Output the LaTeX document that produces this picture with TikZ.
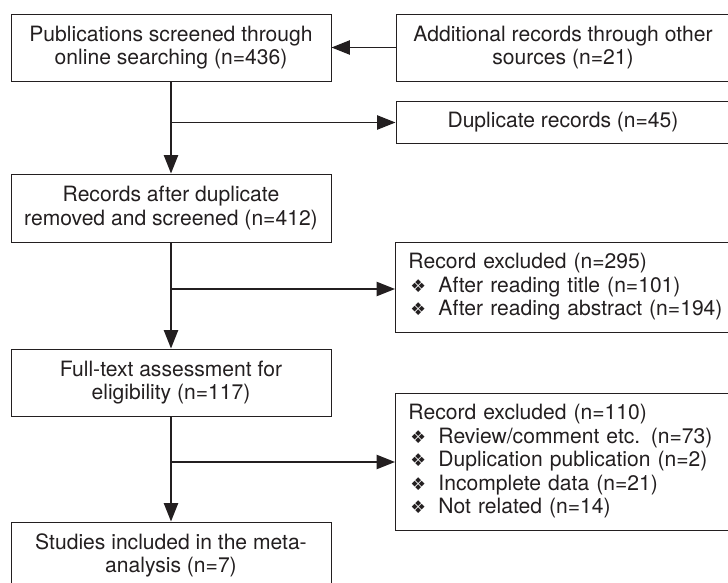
\documentclass[tikz,border=0pt]{standalone}
\usepackage{fontspec}
\setmainfont{TeX Gyre Heros}
\newfontfamily\symfont{DejaVu Sans}
\usetikzlibrary{arrows.meta, positioning}
\definecolor{inkgray}{HTML}{231F20}

\newcommand{\itm}{\makebox[0.75cm][l]{\hspace{0.05cm}{\symfont\fontsize{12.5}{12.5}\selectfont ❖}}}

\tikzset{
  box/.style={draw=inkgray, line width=0.7pt, minimum width=8cm, minimum height=1.675cm, align=center, inner sep=0pt},
  sidebox/.style={draw=inkgray, line width=0.7pt, anchor=west, text width=8.4cm, align=left, inner xsep=0.325cm, inner ysep=0pt},
  flow/.style={-{Triangle[length=13pt,width=10pt]}, line width=1.4pt, draw=inkgray},
}

\begin{document}
\begin{tikzpicture}[font=\fontsize{15}{16.7}\selectfont, text=inkgray]
  \useasboundingbox (0,0) rectangle (18.2,-14.575);

  % main column
  \node[box] (pub) at (4.275,-1.1875) {Publications screened through\\online searching (n=436)};
  \node[box, minimum height=1.7cm] (rec) at (4.275,-5.2) {Records after duplicate\\removed and screened (n=412)};
  \node[box] (full) at (4.275,-9.5625) {Full-text assessment for\\eligibility (n=117)};
  \node[box] (stud) at (4.275,-13.8875) {Studies included in the meta-\\analysis (n=7)};

  % side boxes
  \node[box, minimum width=8.35cm] (add) at (14.075,-1.1875) {Additional records through other\\sources (n=21)};
  \node[box, minimum width=8.35cm, minimum height=1.04cm] (dup) at (14.075,-3.0625) {Duplicate records (n=45)};
  \node[sidebox, minimum height=2.25cm] (exc1) at (9.875,-7.175) {Record excluded (n=295)\\
    \itm After reading title (n=101)\\
    \itm After reading abstract (n=194)};
  \node[sidebox, minimum height=3.425cm] (exc2) at (9.875,-11.5375) {Record excluded (n=110)\\
    \itm Review/comment etc. (n=73)\\
    \itm Duplication publication (n=2)\\
    \itm Incomplete data (n=21)\\
    \itm Not related (n=14)};

  % branch points
  \coordinate (b1) at (pub.south |- dup.west);
  \coordinate (b2) at (rec.south |- 0,-7.225);
  \coordinate (b3) at (full.south |- 0,-11.55);

  % connectors
  \draw[flow] (add) -- (pub);
  \draw[flow] (pub) -- (rec);
  \draw[flow] (b1) -- (dup.west);
  \draw[flow] (rec) -- (full);
  \draw[flow] (b2) -- (b2 -| exc1.west);
  \draw[flow] (full) -- (stud);
  \draw[flow] (b3) -- (b3 -| exc2.west);
\end{tikzpicture}
\end{document}
